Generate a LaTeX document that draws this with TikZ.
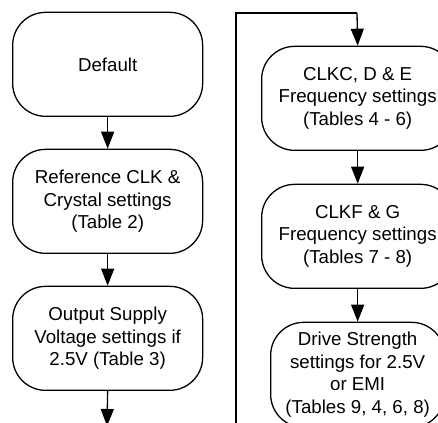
\documentclass[tikz,border=0pt]{standalone}
\usepackage{fontspec}
\setmainfont{Liberation Sans}
\usetikzlibrary{shapes,arrows.meta}

\begin{document}
\begin{tikzpicture}[x=1pt,y=1pt,>={Triangle[length=17pt,width=13pt]},line width=1.3pt]
			\tikzstyle{setting}=[draw,rectangle,rounded corners=33pt,align=center,inner sep=0pt, anchor=south west, minimum width=190pt,minimum height=104pt,font=\fontsize{18.7}{22.5}\selectfont]
			
			\useasboundingbox (0,0) rectangle (438,422);
			\clip (0,0) rectangle (438,422);
			
			\node[setting] (default) at (12,305) {Default};
			\node[setting] (refclk) at (12,168) {Reference CLK \&\\Crystal settings\\(Table 2)};
			\node[setting] (supply) at (12,31) {Output Supply\\Voltage settings if\\2.5V (Table 3)};
			
			\node[setting,minimum width=192pt] (clkcde) at (261,271) {CLKC, D \& E\\Frequency settings\\(Tables 4 - 6)};
			\node[setting,minimum width=192pt] (clkfg) at (261,133) {CLKF \& G\\Frequency settings\\(Tables 7 - 8)};
			\node[setting,minimum width=174pt,minimum height=105pt] (drive) at (270,-6) {Drive Strength\\settings for 2.5V\\or EMI\\(Tables 9, 4, 6, 8)};
			
			\coordinate (out) at (107,-4);
			\coordinate (loopin) at (236,-4);
			\coordinate (looptop) at (357,409);
			
			\draw[->] (default.south)-- (refclk.north);
			\draw[->] (refclk.south)-- (supply.north);
			\draw[->] (supply.south)-- (out);
			
			\draw[-] (loopin) |- (looptop);
			\draw[->] (looptop)-- (clkcde.north);
			\draw[->] (clkcde.south)-- (clkfg.north);
			\draw[->] (clkfg.south)-- (drive.north);
			
		\end{tikzpicture}
\end{document}
